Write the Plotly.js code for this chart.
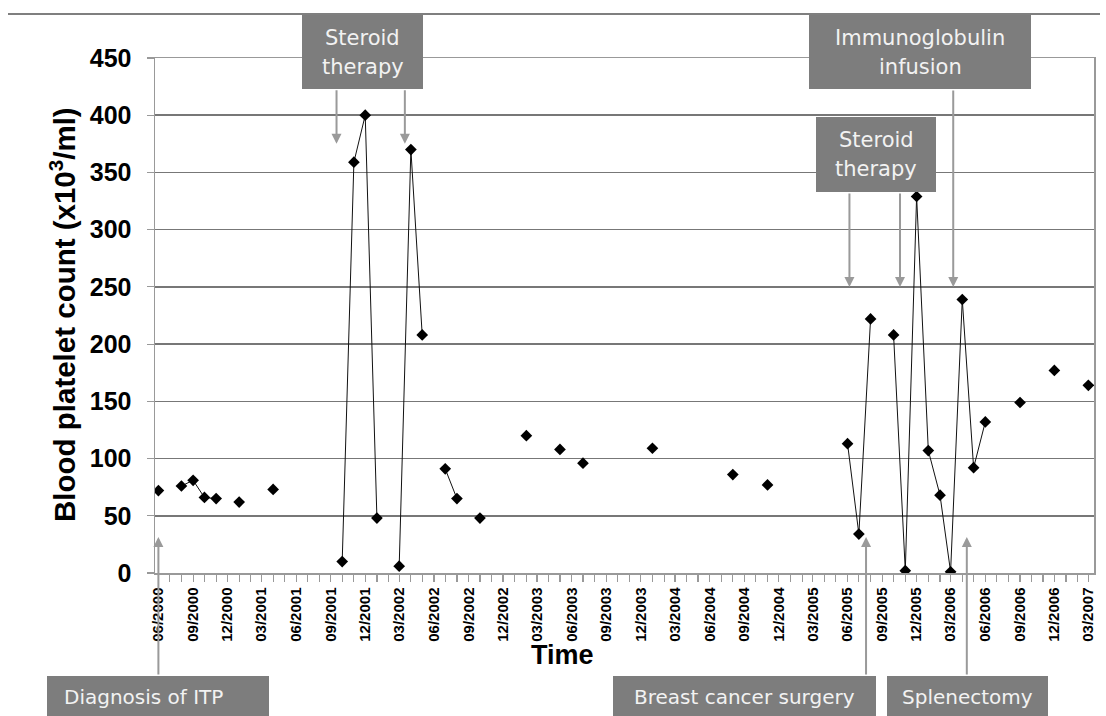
<!DOCTYPE html>
<html>
<head>
<meta charset="utf-8">
<script src="https://cdn.plot.ly/plotly-3.0.1.min.js"></script>
<style>html,body{margin:0;padding:0;background:#fff;}#chart{width:1106px;height:716px;}</style>
</head>
<body>
<div id="chart"></div>
<script>
// ---- data ----
const months = ['2000-06','2000-08','2000-09','2000-10','2000-11','2001-01','2001-04',
  '2001-10','2001-11','2001-12','2002-01','2002-03','2002-04','2002-05','2002-07','2002-08',
  '2002-10','2003-02','2003-05','2003-07','2004-01','2004-08','2004-11','2005-06','2005-07',
  '2005-08','2005-10','2005-11','2005-12','2006-01','2006-02','2006-03','2006-04','2006-05',
  '2006-06','2006-09','2006-12','2007-03'];
const platelets = [72,76,81,66,65,62,73,10,359,400,48,6,370,208,91,65,48,120,108,96,109,86,77,
  113,34,222,208,2,329,107,68,1,239,92,132,149,177,164];

const eventNames = ['Diagnosis of ITP','Steroid therapy','Steroid therapy','Breast cancer surgery',
  'Steroid therapy','Steroid therapy','Immunoglobulin infusion','Splenectomy'];
const eventDates = ['2000-06-01','2001-09-16','2002-03-16','2005-07-20','2005-06-06','2005-10-18',
  '2006-03-08','2006-04-13'];

const yTicks = [0,50,100,150,200,250,300,350,400,450];

// ---- build series: break the line where a month is missing ----
function mIndex(s){const [y,m]=s.split('-').map(Number);return y*12+m;}
const xs=[], ys=[];
months.forEach((m,i)=>{
  if(i>0 && mIndex(m)-mIndex(months[i-1])>1){xs.push(null);ys.push(null);}
  xs.push(m+'-01'); ys.push(platelets[i]);
});

// ---- layout helpers (pixel -> paper) ----
const L=155, T=58, W=939, H=515;
const px = v => (v-L)/W;
const py = v => (T+H-v)/H;

const boxFill='#7d7d7d', boxText='#f2f2f2', arrowCol='#9a9a9a';
const boxFont={family:'DejaVu Sans, Verdana, sans-serif', size:20, color:boxText};
const topFont={family:'DejaVu Sans, Verdana, sans-serif', size:21, color:boxText};

// arrow geometry per event: [tip value, tail offset px]
const arrowGeom = [[31.5,139],[375,-55],[375,-55],[31.5,139],[250,-95],[250,-95],[250,-198],[31.5,139]];

const boxes = [
  {r:[302,15,423,89]}, {r:[809,15,1031,89]}, {r:[816,117,936,192]},
  {r:[47,676,269,720]}, {r:[613,676,876,720]}, {r:[887,676,1048,720]}
];

const shapes = [
  {type:'line', xref:'paper', yref:'paper', x0:px(8), x1:px(1100), y0:py(14), y1:py(14),
   line:{color:'#555', width:1.5}}
];
boxes.forEach(b=>{
  shapes.push({type:'rect', xref:'paper', yref:'paper', layer:'above',
    x0:px(b.r[0]), x1:px(b.r[2]), y0:py(b.r[3]), y1:py(b.r[1]),
    fillcolor:boxFill, line:{width:0}});
});

const annotations = [];
function txt(t,x,y,font,anchor){
  annotations.push({text:t, xref:'paper', yref:'paper', x:px(x), y:py(y),
    xanchor:anchor||'center', yanchor:'middle', showarrow:false, font:font});
}
txt('Steroid',362.5,38,topFont); txt('therapy',362.5,67,topFont);
txt('Immunoglobulin',920,38,topFont); txt('infusion',920,67,topFont);
txt('Steroid',876,140,topFont); txt('therapy',876,169,topFont);
txt(eventNames[0],62,697,boxFont,'left');
txt(eventNames[3],744.5,697,boxFont);
txt(eventNames[7],967.5,697,boxFont);

eventDates.forEach((d,i)=>{
  annotations.push({text:'', xref:'x', yref:'y', x:d, y:arrowGeom[i][0],
    ax:0, ay:arrowGeom[i][1], showarrow:true, arrowhead:2, arrowsize:1, arrowwidth:2,
    arrowcolor:arrowCol, standoff:0});
});

// axis titles as annotations
annotations.push({text:'Time', xref:'paper', yref:'paper', x:px(562), y:py(655),
  xanchor:'center', yanchor:'middle', showarrow:false,
  font:{family:'Liberation Sans, Arial, sans-serif', size:27, weight:700, color:'#000'}});
annotations.push({text:'Blood platelet count (x10<sup>3</sup>/ml)', xref:'paper', yref:'paper',
  x:px(62), y:py(315), xanchor:'center', yanchor:'middle', textangle:-90, showarrow:false,
  font:{family:'Liberation Sans, Arial, sans-serif', size:29.5, weight:700, color:'#000'}});

const trace = {
  x:xs, y:ys, type:'scatter', mode:'lines+markers', connectgaps:false,
  line:{color:'#111', width:1},
  marker:{symbol:'diamond', size:9, color:'#000'},
  hoverinfo:'x+y'
};

const layout = {
  width:1106, height:716,
  margin:{l:L, r:1106-L-W, t:T, b:716-T-H, pad:0},
  paper_bgcolor:'#fff', plot_bgcolor:'#fff',
  showlegend:false,
  xaxis:{
    type:'date', range:['2000-05-23','2007-03-16'],
    tick0:'2000-06-01', dtick:'M3', tickformat:'%m/%Y', tickangle:-90,
    ticks:'outside', ticklen:7, tickwidth:1.2, tickcolor:'#999',
    minor:{dtick:'M1', tick0:'2000-06-01', ticks:'outside', ticklen:7, tickwidth:1.2, tickcolor:'#999', showgrid:false},
    showgrid:false, zeroline:false,
    showline:true, linecolor:'#999', linewidth:1.5, mirror:true,
    tickfont:{family:'Liberation Sans, Arial, sans-serif', size:15, weight:700, color:'#000'},
    fixedrange:true
  },
  yaxis:{
    range:[0,450], tickvals:yTicks, ticktext:yTicks.map(String),
    ticks:'outside', ticklen:7, tickwidth:1.2, tickcolor:'#999',
    showgrid:true, gridcolor:'#777', gridwidth:1.6, zeroline:false,
    showline:true, linecolor:'#999', linewidth:1.5, mirror:true,
    ticklabelstandoff:10,
    tickfont:{family:'Liberation Sans, Arial, sans-serif', size:25, weight:700, color:'#000'},
    fixedrange:true
  },
  shapes:shapes,
  annotations:annotations
};

Plotly.newPlot('chart',[trace],layout,{displayModeBar:false, staticPlot:true});
</script>
</body>
</html>
